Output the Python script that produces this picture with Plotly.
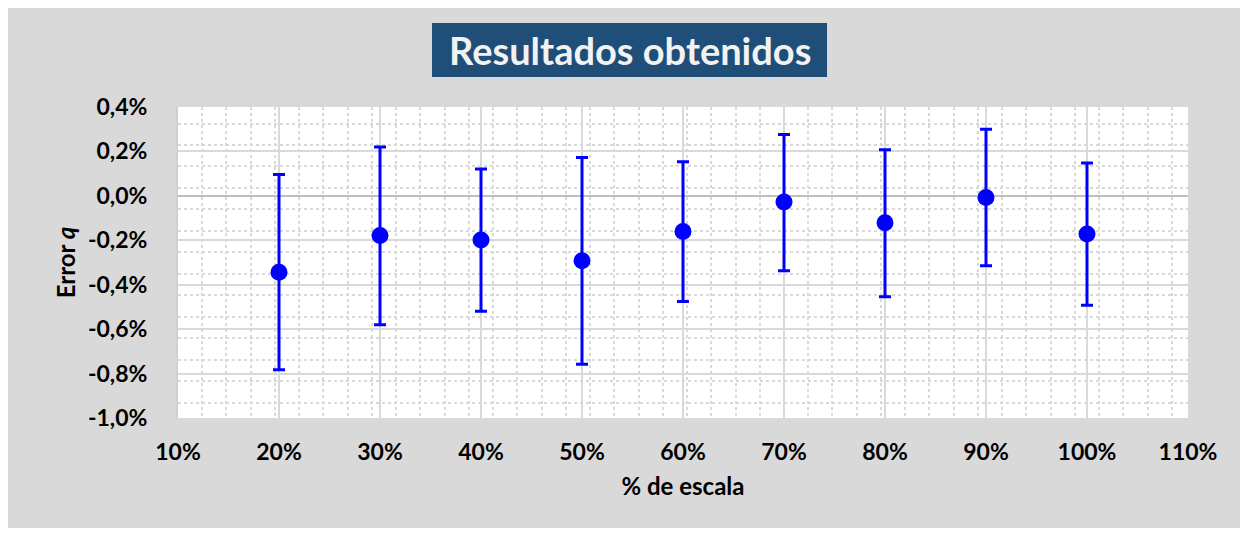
import plotly.graph_objects as go

# Data (values in percent)
escala = [20, 30, 40, 50, 60, 70, 80, 90, 100]
error_q = [-0.344, -0.178, -0.199, -0.292, -0.160, -0.028, -0.121, -0.007, -0.172]
err_plus = [0.440, 0.398, 0.320, 0.465, 0.313, 0.304, 0.329, 0.307, 0.320]
err_minus = [0.439, 0.402, 0.321, 0.466, 0.315, 0.309, 0.333, 0.308, 0.321]

x_tickvals = [10, 20, 30, 40, 50, 60, 70, 80, 90, 100, 110]
x_ticktext = ["10%", "20%", "30%", "40%", "50%", "60%", "70%", "80%", "90%", "100%", "110%"]
y_tickvals = [0.4, 0.2, 0.0, -0.2, -0.4, -0.6, -0.8, -1.0]
y_ticktext = ["0,4%", "0,2%", "0,0%", "-0,2%", "-0,4%", "-0,6%", "-0,8%", "-1,0%"]

FONT = "Lato"
BLUE = "#0000FF"
GRID = "#D9D9D9"

fig = go.Figure()
fig.add_trace(go.Scatter(
    x=escala, y=error_q, mode="markers",
    marker=dict(color=BLUE, size=17, line=dict(width=0)),
    error_y=dict(type="data", symmetric=False, array=err_plus, arrayminus=err_minus,
                 color=BLUE, thickness=3, width=6),
    showlegend=False, hoverinfo="x+y",
))

OFF = 8  # page body margin
W, H = 1248 - OFF, 534 - OFF
# plot area in page pixels: x 178..1188, y 107..418
L, R, T, B = 178 - OFF, 1248 - 1188, 107 - OFF, 534 - 418
pw, ph = W - L - R, H - T - B

def px_x(p):
    return (p - OFF - L) / pw

def px_y(p):
    return (H - B - (p - OFF)) / ph

shapes = [
    # grey chart area
    dict(type="rect", xref="paper", yref="paper", layer="below",
         x0=px_x(OFF), x1=px_x(1242), y0=px_y(528), y1=px_y(OFF),
         fillcolor="#D9D9D9", line=dict(width=0)),
    # white plot area
    dict(type="rect", xref="paper", yref="paper", layer="below",
         x0=0, x1=1, y0=0, y1=1, fillcolor="#FFFFFF", line=dict(width=0)),
    # title box
    dict(type="rect", xref="paper", yref="paper", layer="above",
         x0=px_x(432), x1=px_x(827), y0=px_y(77), y1=px_y(23),
         fillcolor="#1F4E79", line=dict(width=0)),
]

fig.update_layout(
    width=W, height=H,
    margin=dict(l=L, r=R, t=T, b=B, pad=0),
    paper_bgcolor="#FFFFFF",
    plot_bgcolor="rgba(0,0,0,0)",
    shapes=shapes,
    annotations=[dict(
        text="<b>Resultados obtenidos</b>", xref="paper", yref="paper",
        x=px_x(629.5), y=px_y(50), xanchor="center", yanchor="middle",
        showarrow=False, font=dict(family=FONT, size=38, color="#F2F2F2"),
    )],
    font=dict(family=FONT, color="#000000"),
)

fig.update_xaxes(
    range=[10, 110], tickmode="array", tickvals=x_tickvals, ticktext=x_ticktext,
    tickfont=dict(family=FONT, size=23, color="#000000", weight="bold"),
    ticks="", ticklabelstandoff=18,
    showgrid=True, gridcolor=GRID, gridwidth=2,
    minor=dict(tick0=10, dtick=2.4, showgrid=True, gridcolor=GRID, gridwidth=2,
               griddash="3px,3px", ticks=""),
    zeroline=False, showline=False,
    title=dict(text="<b>% de escala</b>", font=dict(family=FONT, size=24, color="#000000"),
               standoff=14),
)

fig.update_yaxes(
    range=[-1.0, 0.4], tickmode="array", tickvals=y_tickvals, ticktext=y_ticktext,
    tickfont=dict(family=FONT, size=23, color="#000000", weight="bold"),
    ticks="", ticklabelstandoff=24,
    showgrid=True, gridcolor=GRID, gridwidth=2,
    minor=dict(tick0=0.3254, dtick=0.0966, showgrid=True, gridcolor=GRID, gridwidth=2,
               griddash="3px,3px", ticks=""),
    zeroline=True, zerolinecolor="#BFBFBF", zerolinewidth=2,
    showline=True, linecolor="#D0D0D0", linewidth=2,
    title=dict(text="<b>Error <i>q</i></b>", font=dict(family=FONT, size=24, color="#000000"),
               standoff=6),
)

fig.write_html("out.html")
